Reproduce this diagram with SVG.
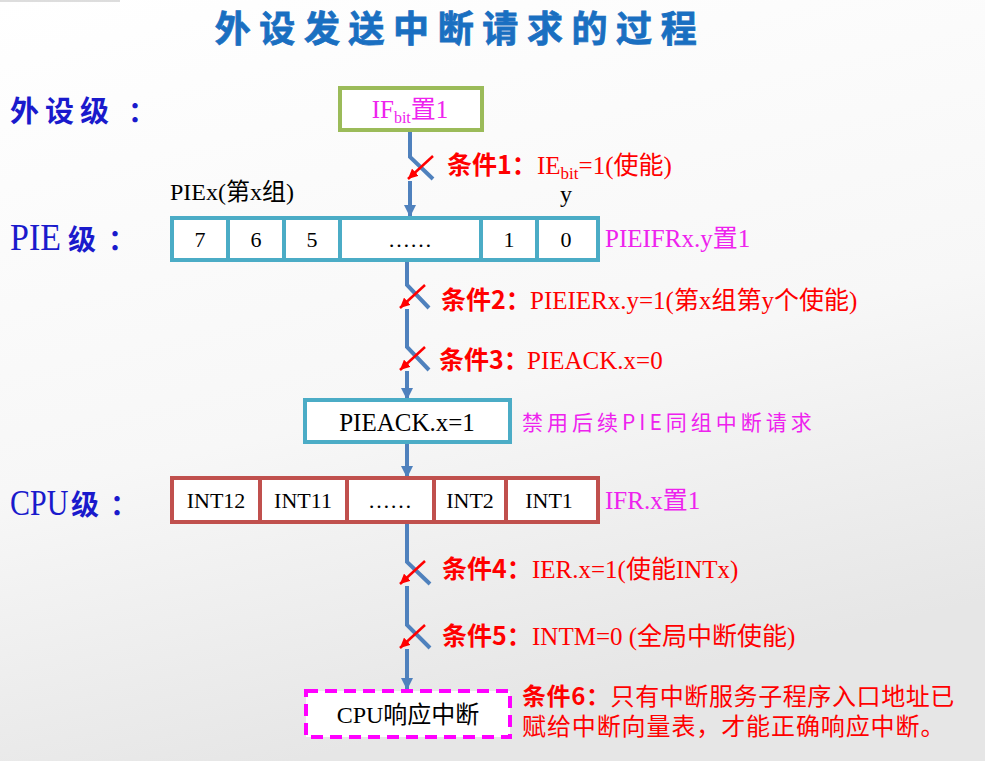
<svg xmlns="http://www.w3.org/2000/svg" width="985" height="761" viewBox="0 0 985 761">
<style>
.serif{font-family:"Liberation Serif","Noto Sans CJK SC",serif;}
.sans{font-family:"Noto Sans CJK SC","Liberation Sans",sans-serif;}
.cell{font-family:"Liberation Serif",serif;font-size:22px;fill:#000;text-anchor:middle;}
.mag{fill:#ee22ee;}
.red{fill:#ff0000;}
.lvl{fill:#1a1acc;}
.cond{font-family:"Noto Sans CJK SC",sans-serif;font-weight:bold;fill:#ff0000;font-size:25px;}
.ctext{font-family:"Liberation Serif","Noto Sans CJK SC",serif;fill:#ff0000;font-size:25px;}
.cline{fill:none;stroke:#4f81bd;stroke-width:4;}
.rline{fill:none;stroke:#ff0000;stroke-width:2.5;}
.pie{fill:#fff;stroke:#4bacc6;stroke-width:4;}
.cpu{fill:#fff;stroke:#c0504d;stroke-width:4;}
</style>
<defs>
<linearGradient id="bg" x1="0" y1="0" x2="0.3" y2="1">
<stop offset="0" stop-color="#ffffff"/>
<stop offset="0.6" stop-color="#f7f7f7"/>
<stop offset="1" stop-color="#e6e6e6"/>
</linearGradient>
<marker id="ba" markerUnits="userSpaceOnUse" markerWidth="14" markerHeight="12" refX="11" refY="6" orient="auto">
<path d="M0,0 L12,6 L0,12 Z" fill="#4f81bd"/>
</marker>
<marker id="ra" markerUnits="userSpaceOnUse" markerWidth="12" markerHeight="10" refX="10" refY="5" orient="auto">
<path d="M0,0 L10,5 L0,10 Z" fill="#ff0000"/>
</marker>
</defs>
<rect width="985" height="761" fill="url(#bg)"/>
<line x1="0" y1="1" x2="120" y2="1" stroke="#bbbbbb" stroke-width="1"/>

<text x="460" y="42" class="sans" font-size="36" font-weight="bold" fill="#1a6fc1" stroke="#1a6fc1" stroke-width="0.8" text-anchor="middle" letter-spacing="8.6">外设发送中断请求的过程</text>

<g id="labels">
<text x="10" y="122" class="sans lvl" font-size="29" font-weight="bold" letter-spacing="6">外设级</text>
<text x="128" y="122" class="sans lvl" font-size="28" font-weight="bold">：</text>
<text transform="translate(10,250) scale(1,1.12)" class="serif lvl" font-size="34">PIE</text>
<text x="68" y="250" class="sans lvl" font-size="28" font-weight="bold">级</text>
<text x="108" y="250" class="sans lvl" font-size="28" font-weight="bold">：</text>
<text transform="translate(10,515) scale(1,1.2)" class="serif lvl" font-size="30">CPU</text>
<text x="71" y="515" class="sans lvl" font-size="28" font-weight="bold">级</text>
<text x="110" y="515" class="sans lvl" font-size="28" font-weight="bold">：</text>
</g>

<g id="connectors">
<path class="cline" d="M410,130 V157 L433,179"/>
<path class="cline" d="M410,181 V216" marker-end="url(#ba)"/>
<path class="cline" d="M407,260 V285 L429,308"/>
<path class="cline" d="M407,309 V347 L429,370"/>
<path class="cline" d="M407,371 V399" marker-end="url(#ba)"/>
<path class="cline" d="M407,442 V477" marker-end="url(#ba)"/>
<path class="cline" d="M407,522 V562 L430,584"/>
<path class="cline" d="M407,586 V625 L430,648"/>
<path class="cline" d="M407,649 V689" marker-end="url(#ba)"/>
<line class="rline" x1="433" y1="156" x2="408" y2="179" marker-end="url(#ra)"/>
<line class="rline" x1="425" y1="285" x2="400" y2="308" marker-end="url(#ra)"/>
<line class="rline" x1="425" y1="347" x2="400" y2="370" marker-end="url(#ra)"/>
<line class="rline" x1="425" y1="561" x2="400" y2="584" marker-end="url(#ra)"/>
<line class="rline" x1="425" y1="625" x2="400" y2="648" marker-end="url(#ra)"/>
</g>

<g id="node-if">
<rect x="340" y="88" width="142" height="42" fill="#fff" stroke="#9bbb59" stroke-width="4"/>
<text x="410" y="118" class="serif mag" font-size="25" text-anchor="middle">IF<tspan font-size="16" dy="5">bit</tspan><tspan dy="-5">置1</tspan></text>
</g>

<g id="cond1">
<text x="447" y="174" class="cond">条件1：</text>
<text x="537" y="174" class="ctext">IE<tspan font-size="17" dy="5">bit</tspan><tspan dy="-5">=1(使能)</tspan></text>
</g>

<text x="170" y="200" class="serif" font-size="24" fill="#000">PIEx(第x组)</text>
<text x="566" y="202" class="serif" font-size="24" fill="#000" text-anchor="middle">y</text>

<g id="node-pie">
<rect x="172" y="218" width="426" height="42" class="pie"/>
<line x1="228" y1="218" x2="228" y2="260" stroke="#4bacc6" stroke-width="4"/>
<line x1="284" y1="218" x2="284" y2="260" stroke="#4bacc6" stroke-width="4"/>
<line x1="340" y1="218" x2="340" y2="260" stroke="#4bacc6" stroke-width="4"/>
<line x1="481" y1="218" x2="481" y2="260" stroke="#4bacc6" stroke-width="4"/>
<line x1="537" y1="218" x2="537" y2="260" stroke="#4bacc6" stroke-width="4"/>
<text x="200" y="247" class="cell">7</text>
<text x="256" y="247" class="cell">6</text>
<text x="312" y="247" class="cell">5</text>
<text x="410" y="247" class="cell">……</text>
<text x="509" y="247" class="cell">1</text>
<text x="566" y="247" class="cell">0</text>
</g>
<text x="605" y="247" class="serif mag" font-size="25">PIEIFRx.y置1</text>

<g id="cond2">
<text x="441" y="309" class="cond">条件2：</text>
<text x="530" y="309" class="ctext">PIEIERx.y=1(第x组第y个使能)</text>
</g>
<g id="cond3">
<text x="439" y="369" class="cond">条件3：</text>
<text x="527" y="369" class="ctext">PIEACK.x=0</text>
</g>

<g id="node-pieack">
<rect x="305" y="400" width="205" height="42" class="pie"/>
<text x="407" y="431" class="serif" font-size="25" fill="#000" text-anchor="middle">PIEACK.x=1</text>
</g>
<text x="522" y="430" class="sans mag" font-size="21" letter-spacing="4">禁用后续PIE同组中断请求</text>

<g id="node-cpu">
<rect x="172" y="478" width="426" height="44" class="cpu"/>
<line x1="260" y1="478" x2="260" y2="522" stroke="#c0504d" stroke-width="4"/>
<line x1="347" y1="478" x2="347" y2="522" stroke="#c0504d" stroke-width="4"/>
<line x1="434" y1="478" x2="434" y2="522" stroke="#c0504d" stroke-width="4"/>
<line x1="506" y1="478" x2="506" y2="522" stroke="#c0504d" stroke-width="4"/>
<text x="216" y="508" class="cell">INT12</text>
<text x="303" y="508" class="cell">INT11</text>
<text x="390" y="508" class="cell">……</text>
<text x="470" y="508" class="cell">INT2</text>
<text x="549" y="508" class="cell">INT1</text>
</g>
<text x="605" y="509" class="serif mag" font-size="25">IFR.x置1</text>

<g id="cond4">
<text x="442" y="578" class="cond">条件4：</text>
<text x="532" y="578" class="ctext">IER.x=1(使能INTx)</text>
</g>
<g id="cond5">
<text x="442" y="645" class="cond">条件5：</text>
<text x="532" y="645" class="ctext">INTM=0 (全局中断使能)</text>
</g>

<g id="node-cpuresp">
<rect x="306" y="691" width="204" height="46" fill="#fff" stroke="#ff00ff" stroke-width="4" stroke-dasharray="12,7"/>
<text x="408" y="723" class="serif" font-size="24" fill="#000" text-anchor="middle">CPU响应中断</text>
</g>
<g id="cond6">
<text x="522" y="705" class="sans red" font-size="24" letter-spacing="0.6"><tspan font-weight="bold">条件6：</tspan>只有中断服务子程序入口地址已</text>
<text x="522" y="735" class="sans red" font-size="24" letter-spacing="0.9">赋给中断向量表，才能正确响应中断。</text>
</g>
</svg>
